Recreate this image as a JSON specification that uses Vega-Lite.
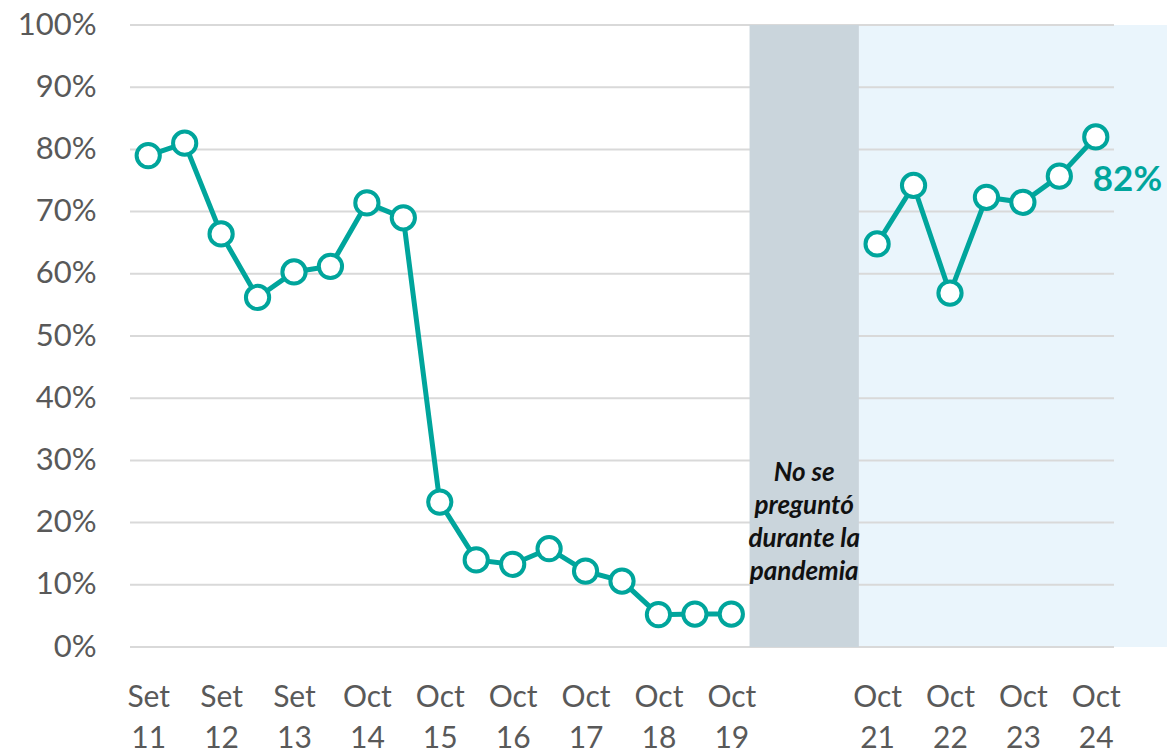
{
  "$schema": "https://vega.github.io/schema/vega-lite/v6.json",
  "width": 984,
  "height": 622,
  "autosize": {"type": "none"},
  "padding": {"left": 130, "top": 25, "right": 53, "bottom": 108},
  "background": "white",
  "config": {"view": {"stroke": null}, "font": "Lato"},
  "layer": [
    {
      "data": {"values": [{"x0": 19.5, "x1": 28, "y0": 0, "y1": 1}]},
      "mark": {"type": "rect", "color": "#EAF5FC", "clip": false},
      "encoding": {
        "x": {"field": "x0", "type": "quantitative", "title": null, "scale": {"domain": [-0.5, 26.5], "nice": false, "zero": false}},
        "x2": {"field": "x1"},
        "y": {"field": "y0", "type": "quantitative", "title": null, "scale": {"domain": [0, 1], "nice": false}},
        "y2": {"field": "y1"}
      }
    },
    {
      "data": {"values": [{"g": 0}, {"g": 0.1}, {"g": 0.2}, {"g": 0.3}, {"g": 0.4}, {"g": 0.5}, {"g": 0.6}, {"g": 0.7}, {"g": 0.8}, {"g": 0.9}, {"g": 1}]},
      "mark": {"type": "rule", "color": "#D9D9D9", "strokeWidth": 2},
      "encoding": {
        "y": {"field": "g", "type": "quantitative", "title": null}
      }
    },
    {
      "data": {"values": [{"x0": 16.5, "x1": 19.5, "y0": 0, "y1": 1}]},
      "mark": {"type": "rect", "color": "#CAD5DC"},
      "encoding": {
        "x": {"field": "x0", "type": "quantitative", "title": null},
        "x2": {"field": "x1"},
        "y": {"field": "y0", "type": "quantitative", "title": null},
        "y2": {"field": "y1"}
      }
    },
    {
      "data": {"name": "pts", "values": [
        {"i": 0, "v": 0.79, "seg": "a"},
        {"i": 1, "v": 0.81, "seg": "a"},
        {"i": 2, "v": 0.664, "seg": "a"},
        {"i": 3, "v": 0.562, "seg": "a"},
        {"i": 4, "v": 0.603, "seg": "a"},
        {"i": 5, "v": 0.612, "seg": "a"},
        {"i": 6, "v": 0.714, "seg": "a"},
        {"i": 7, "v": 0.69, "seg": "a"},
        {"i": 8, "v": 0.233, "seg": "a"},
        {"i": 9, "v": 0.14, "seg": "a"},
        {"i": 10, "v": 0.133, "seg": "a"},
        {"i": 11, "v": 0.158, "seg": "a"},
        {"i": 12, "v": 0.122, "seg": "a"},
        {"i": 13, "v": 0.106, "seg": "a"},
        {"i": 14, "v": 0.052, "seg": "a"},
        {"i": 15, "v": 0.053, "seg": "a"},
        {"i": 16, "v": 0.053, "seg": "a"},
        {"i": 20, "v": 0.648, "seg": "b"},
        {"i": 21, "v": 0.742, "seg": "b"},
        {"i": 22, "v": 0.569, "seg": "b"},
        {"i": 23, "v": 0.723, "seg": "b"},
        {"i": 24, "v": 0.715, "seg": "b"},
        {"i": 25, "v": 0.757, "seg": "b"},
        {"i": 26, "v": 0.82, "seg": "b"}
      ]},
      "layer": [
        {
          "mark": {"type": "line", "color": "#00A59C", "strokeWidth": 5},
          "encoding": {
            "x": {
              "field": "i", "type": "quantitative", "title": null,
              "axis": {
                "values": [0, 2, 4, 6, 8, 10, 12, 14, 16, 20, 22, 24, 26],
                "labelExpr": "[datum.value < 5 ? 'Set' : 'Oct', '' + (11 + datum.value / 2)]",
                "ticks": false, "domain": false, "grid": false,
                "labelFontSize": 30, "labelColor": "#595959", "labelPadding": 35,
                "labelLineHeight": 41, "labelFlush": false, "labelOverlap": false
              }
            },
            "y": {
              "field": "v", "type": "quantitative", "title": null,
              "axis": {
                "values": [0, 0.1, 0.2, 0.3, 0.4, 0.5, 0.6, 0.7, 0.8, 0.9, 1],
                "format": ".0%", "ticks": false, "domain": false, "grid": false,
                "labelFontSize": 31, "labelColor": "#595959", "labelPadding": 34
              }
            },
            "detail": {"field": "seg"}
          }
        },
        {
          "mark": {"type": "point", "shape": "circle", "filled": true, "fill": "white", "stroke": "#00A59C", "strokeWidth": 4, "size": 540, "opacity": 1},
          "encoding": {
            "x": {"field": "i", "type": "quantitative"},
            "y": {"field": "v", "type": "quantitative"}
          }
        }
      ]
    },
    {
      "data": {"values": [{"i": 26, "v": 0.82, "t": "82%"}]},
      "mark": {"type": "text", "color": "#00A59C", "fontWeight": "bold", "fontSize": 35, "align": "left", "baseline": "middle", "dx": -3, "dy": 43},
      "encoding": {
        "x": {"field": "i", "type": "quantitative"},
        "y": {"field": "v", "type": "quantitative"},
        "text": {"field": "t"}
      }
    },
    {
      "data": {"values": [{"i": 18, "v": 0.28, "t": "No se\npreguntó\ndurante la\npandemia"}]},
      "mark": {"type": "text", "color": "#111111", "fontWeight": "bold", "fontStyle": "italic", "fontSize": 26, "lineHeight": 33, "lineBreak": "\n", "align": "center", "baseline": "middle"},
      "encoding": {
        "x": {"field": "i", "type": "quantitative"},
        "y": {"field": "v", "type": "quantitative"},
        "text": {"field": "t"}
      }
    }
  ]
}
